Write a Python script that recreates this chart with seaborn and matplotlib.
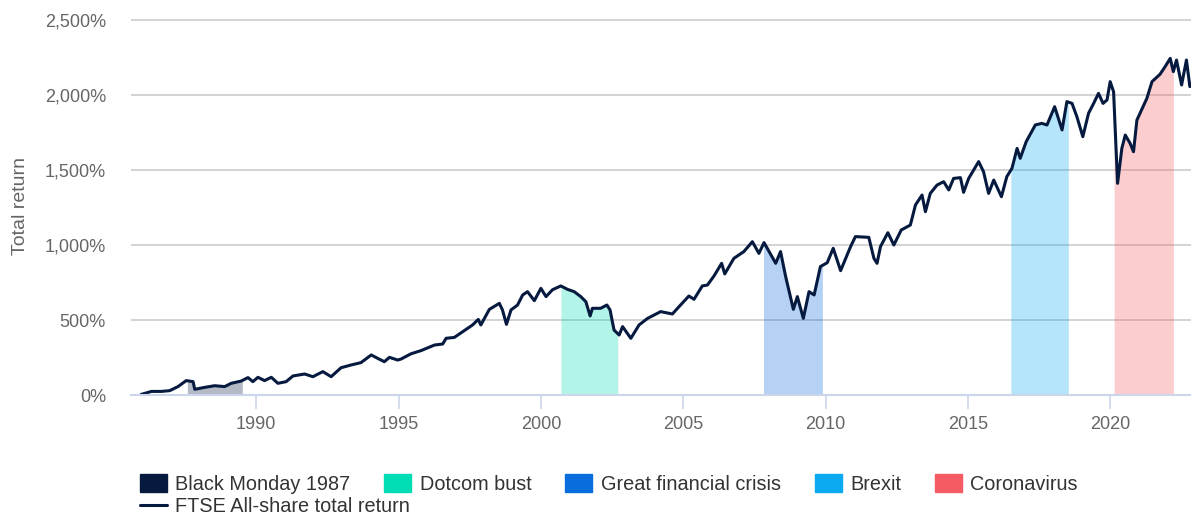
import numpy as np
import pandas as pd
import seaborn as sns
import matplotlib.pyplot as plt
from matplotlib.patches import Patch
from matplotlib.lines import Line2D

sns.set_style("white")
plt.rcParams['font.family'] = ['Liberation Sans', 'DejaVu Sans']

# FTSE All-share total return (%)
years = [1985.96, 1986.32, 1986.67, 1986.96, 1987.25, 1987.54, 1987.78, 1987.84,
         1988.19, 1988.54, 1988.89, 1989.12, 1989.47, 1989.71, 1989.88, 1990.06,
         1990.29, 1990.53, 1990.76, 1991.05, 1991.29, 1991.70, 1991.99, 1992.34,
         1992.63, 1992.98, 1993.33, 1993.68, 1994.04, 1994.27, 1994.50, 1994.68,
         1994.97, 1995.09, 1995.44, 1995.79, 1996.26, 1996.55, 1996.67, 1996.96,
         1997.25, 1997.60, 1997.80, 1997.89, 1998.19, 1998.54, 1998.65, 1998.79,
         1998.95, 1999.18, 1999.36, 1999.53, 1999.77, 2000.00, 2000.18, 2000.41,
         2000.70, 2000.94, 2001.17, 2001.40, 2001.58, 2001.73, 2001.81, 2002.10,
         2002.32, 2002.43, 2002.57, 2002.75, 2002.87, 2003.16, 2003.45, 2003.75,
         2004.21, 2004.62, 2004.80, 2005.20, 2005.38, 2005.67, 2005.85, 2006.08,
         2006.35, 2006.46, 2006.78, 2007.13, 2007.43, 2007.66, 2007.84, 2008.25,
         2008.42, 2008.60, 2008.87, 2009.01, 2009.22, 2009.42, 2009.60, 2009.82,
         2010.06, 2010.27, 2010.53, 2010.88, 2011.05, 2011.52, 2011.70, 2011.81,
         2011.93, 2012.19, 2012.40, 2012.66, 2012.98, 2013.16, 2013.39, 2013.51,
         2013.68, 2013.92, 2014.15, 2014.33, 2014.50, 2014.74, 2014.85, 2015.03,
         2015.38, 2015.55, 2015.73, 2015.91, 2016.18, 2016.37, 2016.55, 2016.73,
         2016.84, 2017.05, 2017.37, 2017.60, 2017.78, 2018.05, 2018.31, 2018.48,
         2018.66, 2018.83, 2019.04, 2019.24, 2019.42, 2019.59, 2019.75, 2019.89,
         2020.00, 2020.12, 2020.26, 2020.41, 2020.53, 2020.70, 2020.82, 2020.94,
         2021.29, 2021.47, 2021.75, 2021.93, 2022.11, 2022.22, 2022.33, 2022.51,
         2022.68, 2022.80]
returns = [4, 24, 24, 29, 56, 96, 89, 38,
           51, 62, 56, 78, 93, 116, 89, 118,
           96, 118, 78, 89, 127, 140, 122, 156,
           122, 182, 200, 216, 267, 244, 222, 251,
           233, 240, 275, 296, 333, 340, 378, 384,
           422, 467, 504, 467, 571, 611, 567, 471,
           567, 600, 667, 689, 629, 711, 656, 702,
           727, 704, 689, 656, 622, 527, 578, 578,
           600, 567, 433, 400, 456, 378, 467, 511,
           556, 540, 578, 660, 638, 727, 733, 793,
           878, 807, 911, 956, 1022, 944, 1016, 878,
           956, 789, 571, 656, 511, 689, 667, 856,
           882, 978, 829, 989, 1056, 1051, 911, 878,
           989, 1082, 1000, 1100, 1133, 1267, 1333, 1222,
           1344, 1400, 1422, 1367, 1444, 1449, 1351, 1444,
           1556, 1489, 1344, 1433, 1322, 1456, 1511, 1644,
           1578, 1689, 1800, 1811, 1800, 1922, 1767, 1956,
           1944, 1856, 1722, 1878, 1944, 2011, 1944, 1967,
           2089, 2022, 1411, 1644, 1733, 1678, 1622, 1833,
           1978, 2089, 2138, 2189, 2244, 2156, 2233, 2067,
           2233, 2056]

event_names = ["Black Monday 1987", "Dotcom bust", "Great financial crisis", "Brexit", "Coronavirus"]
event_starts = [1987.58, 2000.70, 2007.82, 2016.51, 2020.14]
event_ends = [1989.51, 2002.70, 2009.89, 2018.53, 2022.22]
event_colors = ["#061a40", "#00dcb4", "#0a6ddd", "#0aa9f0", "#f45b63"]
line_color = "#061a40"

df = pd.DataFrame({"year": years, "ret": returns})
x = df["year"].to_numpy()
y = df["ret"].to_numpy()

fig = plt.figure(figsize=(11.91, 5.15), dpi=100)
ax = fig.add_axes([0.110, 0.233, 0.890, 0.734])

# shaded windows under the curve
for s, e, c in zip(event_starts, event_ends, event_colors):
    m = (x > s) & (x < e)
    xs = np.concatenate([[s], x[m], [e]])
    ys = np.concatenate([[np.interp(s, x, y)], y[m], [np.interp(e, x, y)]])
    ax.fill_between(xs, 0, ys, color=c, alpha=0.3, lw=0)

sns.lineplot(data=df, x="year", y="ret", color=line_color, lw=2.2, ax=ax)

ax.set_xlim(1985.6, 2022.84)
ax.set_ylim(0, 2520)
ax.set_yticks(range(0, 2501, 500))
ax.set_yticklabels([f"{v:,}%" for v in range(0, 2501, 500)])
ax.set_xticks(range(1990, 2021, 5))
ax.yaxis.grid(True, color="#cccccc", lw=1.2)
ax.xaxis.grid(False)
for sp in ["top", "right", "left"]:
    ax.spines[sp].set_visible(False)
ax.spines["bottom"].set_color("#ccd6eb")
ax.spines["bottom"].set_linewidth(1.5)
ax.tick_params(axis="x", bottom=True, length=10, width=1.2, color="#ccd6eb",
               labelsize=13, labelcolor="#666666", pad=5)
ax.tick_params(axis="y", length=0, labelsize=13, labelcolor="#666666", pad=18)
ax.set_xlabel("")
ax.set_ylabel("Total return", fontsize=14, color="#666666")
ax.yaxis.set_label_coords(-0.096, 0.5)

patches = [Patch(facecolor=c, edgecolor=c) for c in event_colors]
fig.legend(patches, event_names, loc="center left", bbox_to_anchor=(0.1175, 0.0602),
           ncol=5, frameon=False, fontsize=14.3, handlelength=1.36, handleheight=1.0,
           handletextpad=0.42, columnspacing=1.71, borderpad=0, borderaxespad=0,
           labelcolor="#333333")
fig.legend([Line2D([0], [0], color=line_color, lw=2.2)], ["FTSE All-share total return"],
           loc="center left", bbox_to_anchor=(0.1175, 0.0165), frameon=False,
           fontsize=14.3, handlelength=1.36, handletextpad=0.42, borderpad=0,
           borderaxespad=0, labelcolor="#333333")

fig.savefig("out.png", dpi=100)
